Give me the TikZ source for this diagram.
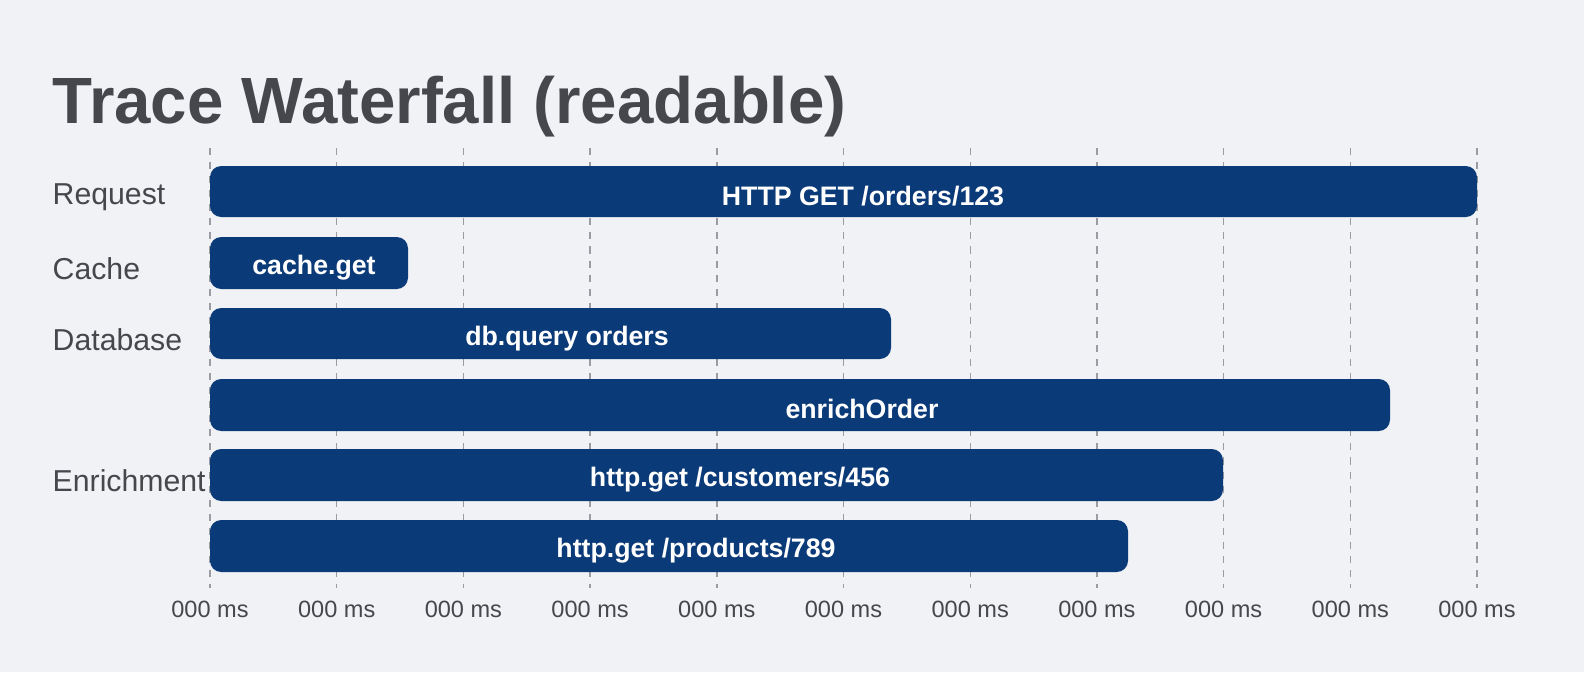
\documentclass[tikz,border=0pt]{standalone}
\usepackage{fontspec}
\setmainfont{Liberation Sans}
\definecolor{bg}{HTML}{F1F2F5}
\definecolor{bar}{HTML}{0B3A78}
\definecolor{ink}{HTML}{45474C}
\definecolor{gridc}{HTML}{9A9CA2}
\begin{document}
\begin{tikzpicture}[x=0.01cm,y=-0.01cm,
  barbox/.style={fill=bar,rounded corners=3.2pt},
  barlbl/.style={text=white,font=\fontsize{7.6}{8}\selectfont\bfseries,yshift=-1.2pt},
  rowlbl/.style={anchor=west,text=ink,font=\fontsize{8.6}{10}\selectfont,inner sep=0,yshift=-1.2pt},
  ticklbl/.style={text=ink,font=\fontsize{6.7}{8}\selectfont},
  gridline/.style={gridc,line width=0.4pt,dash pattern=on 2pt off 2pt}]
\fill[bg] (0,0) rectangle (1584,672);
\useasboundingbox (0,0) rectangle (1584,672);
\node[anchor=base west,text=ink,font=\fontsize{18.6}{22}\selectfont\bfseries,inner sep=0] (title) at (52,123) {Trace Waterfall (readable)};
\foreach \i in {0,...,10}{
  \coordinate (g\i) at ({210+126.7*\i},148);
  \coordinate (h\i) at ({210+126.7*\i},588);
  \draw[gridline] (g\i) -- (h\i);
  \node[ticklbl] (t\i) at ({210+126.7*\i},609) {000 ms};
}
\fill[barbox] (210,166) rectangle (1477,217);
\node[barlbl] (b1) at (863,192) {HTTP GET /orders/123};
\fill[barbox] (210,237) rectangle (408,289);
\node[barlbl] (b2) at (314,263) {cache.get};
\fill[barbox] (210,308) rectangle (891,359);
\node[barlbl] (b3) at (567,334) {db.query orders};
\fill[barbox] (210,379) rectangle (1390,431);
\node[barlbl] (b4) at (862,405) {enrichOrder};
\fill[barbox] (210,449) rectangle (1223,501);
\node[barlbl] (b5) at (740,475) {http.get /customers/456};
\fill[barbox] (210,520) rectangle (1128,572);
\node[barlbl] (b6) at (696,546) {http.get /products/789};
\node[rowlbl] (r1) at (52,193) {Request};
\node[rowlbl] (r2) at (52,264) {Cache};
\node[rowlbl] (r3) at (52,335) {Database};
\node[rowlbl] (r4) at (52,476) {Enrichment};
\end{tikzpicture}
\end{document}
